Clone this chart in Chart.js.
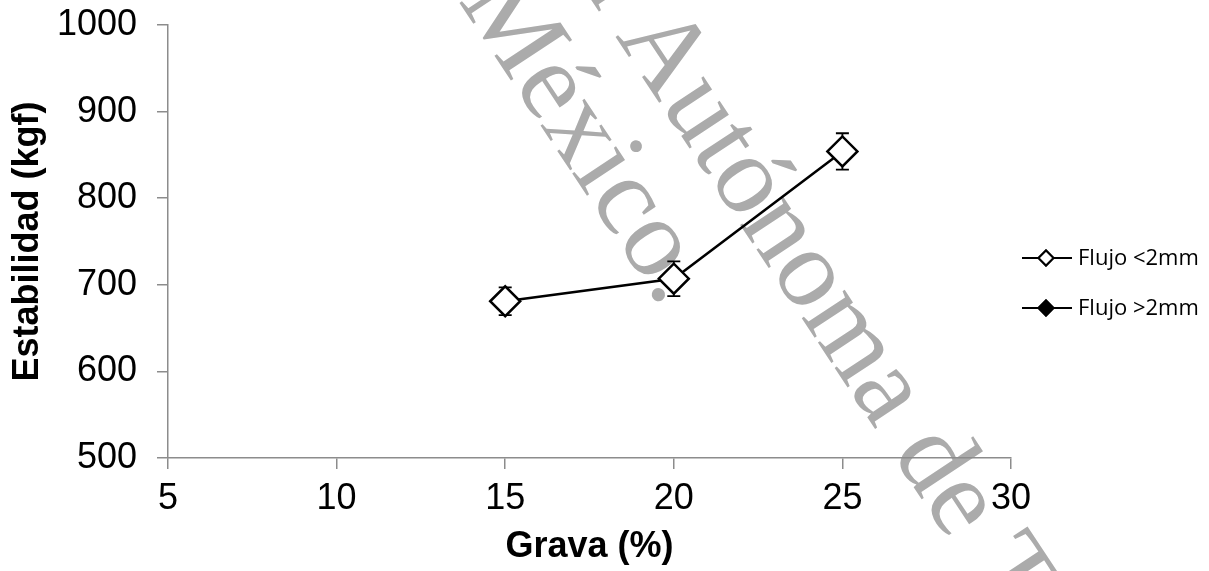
<!DOCTYPE html>
<html>
<head>
<meta charset="utf-8">
<title>Estabilidad vs Grava</title>
<script src="https://cdn.jsdelivr.net/npm/chart.js@4/dist/chart.umd.min.js"></script>
<style>
  html, body { margin: 0; padding: 0; background: #fff; }
  #chart { display: block; }
</style>
</head>
<body>
<canvas id="chart" width="1209" height="571"></canvas>
<script>
// data
const gravaPct = [15, 20, 25];
const flujoMenor = [681, 707, 854];
const flujoMenorErr = [16, 20, 21];
const flujoMayor = [];
const seriesLabels = ['Flujo <2mm', 'Flujo >2mm'];
const xTicks = [5, 10, 15, 20, 25, 30];
const yTicks = [500, 600, 700, 800, 900, 1000];

const AXIS_GREY = '#8c8c8c';
const TICK_FONT = { family: '"Liberation Sans", Arial, sans-serif', size: 36 };
const TITLE_FONT = { family: '"Liberation Sans", Arial, sans-serif', size: 36, weight: 'bold' };

/* =========================
   WATERMARK (behind the chart)
========================= */
const watermark = {
  id: 'watermark',
  beforeDraw(chart) {
    const ctx = chart.ctx;
    const ang = 56.5 * Math.PI / 180;
    ctx.save();
    ctx.fillStyle = '#ababab';
    ctx.font = '112px "Liberation Serif", "DejaVu Serif", serif';
    ctx.textBaseline = 'alphabetic';

    ctx.save();
    ctx.translate(615, 36);
    ctx.rotate(ang);
    ctx.textAlign = 'right';
    ctx.fillText('Universidad ', 0, 0);
    ctx.textAlign = 'left';
    ctx.fillText('Autónoma de Tamaulipas', 0, 0);
    ctx.restore();

    ctx.save();
    ctx.translate(662, 309);
    ctx.rotate(ang);
    ctx.textAlign = 'right';
    ctx.fillText('México.', 0, 0);
    ctx.restore();

    ctx.restore();
  }
};

/* =========================
   ERROR BARS
========================= */
const errorBars = {
  id: 'errorBars',
  beforeDatasetsDraw(chart) {
    const { ctx, scales: { x, y } } = chart;
    chart.data.datasets.forEach(ds => {
      if (!ds.errors) return;
      ds.data.forEach((p, i) => {
        const e = ds.errors[i];
        const px = x.getPixelForValue(p.x);
        const top = y.getPixelForValue(p.y + e);
        const bot = y.getPixelForValue(p.y - e);
        ctx.save();
        ctx.strokeStyle = '#000';
        ctx.lineWidth = 1.8;
        ctx.beginPath();
        ctx.moveTo(px, top); ctx.lineTo(px, bot);
        ctx.moveTo(px - 6.5, top); ctx.lineTo(px + 6.5, top);
        ctx.moveTo(px - 6.5, bot); ctx.lineTo(px + 6.5, bot);
        ctx.stroke();
        ctx.restore();
      });
    });
  }
};

/* =========================
   SIDE LEGEND (line + marker)
========================= */
const sideLegend = {
  id: 'sideLegend',
  afterDraw(chart) {
    const { ctx, chartArea } = chart;
    const x0 = chartArea.right + 11;
    chart.data.datasets.forEach((ds, i) => {
      const yy = 258 + i * 50;
      ctx.save();
      ctx.strokeStyle = '#000';
      ctx.lineWidth = 2;
      ctx.beginPath();
      ctx.moveTo(x0, yy);
      ctx.lineTo(x0 + 50, yy);
      ctx.stroke();
      Chart.helpers.drawPoint(ctx, {
        pointStyle: 'rectRot', radius: 7.5, borderWidth: 2
      }, x0 + 24, yy);
      ctx.fillStyle = ds.pointBackgroundColor;
      ctx.fill();
      ctx.lineWidth = 2;
      ctx.stroke();
      ctx.fillStyle = '#000';
      ctx.font = '22px "Open Sans", sans-serif';
      ctx.textBaseline = 'middle';
      ctx.textAlign = 'left';
      ctx.fillText(ds.label, x0 + 56, yy + 1);
      ctx.restore();
    });
  }
};

const pointsOf = (xs, ys) => ys.map((v, i) => ({ x: xs[i], y: v }));

new Chart(document.getElementById('chart'), {
  type: 'line',
  data: {
    datasets: [
      {
        label: seriesLabels[0],
        data: pointsOf(gravaPct, flujoMenor),
        errors: flujoMenorErr,
        borderColor: '#000',
        borderWidth: 2.5,
        pointStyle: 'rectRot',
        pointRadius: 15,
        pointBackgroundColor: '#fff',
        pointBorderColor: '#000',
        pointBorderWidth: 2.5,
        tension: 0
      },
      {
        label: seriesLabels[1],
        data: pointsOf(gravaPct, flujoMayor),
        borderColor: '#000',
        borderWidth: 2.5,
        pointStyle: 'rectRot',
        pointRadius: 15,
        pointBackgroundColor: '#000',
        pointBorderColor: '#000',
        tension: 0
      }
    ]
  },
  options: {
    responsive: false,
    animation: false,
    devicePixelRatio: 1,
    layout: { padding: { left: 0, right: 198, top: 25, bottom: 0 } },
    plugins: {
      legend: { display: false },
      tooltip: { enabled: false }
    },
    scales: {
      x: {
        type: 'linear',
        min: xTicks[0],
        max: xTicks[xTicks.length - 1],
        afterBuildTicks: s => { s.ticks = xTicks.map(v => ({ value: v })); },
        afterFit: s => { s.height = 113; s.paddingLeft = 0; s.paddingRight = 0; },
        border: { color: AXIS_GREY, width: 1.5 },
        grid: { drawOnChartArea: false, drawTicks: true, tickLength: 11, color: AXIS_GREY, lineWidth: 1.5 },
        ticks: { font: TICK_FONT, color: '#000', padding: 8, maxRotation: 0, callback: v => String(v) },
        title: { display: true, text: 'Grava (%)', font: TITLE_FONT, color: '#000', padding: { top: 0, bottom: 2 } }
      },
      y: {
        type: 'linear',
        min: yTicks[0],
        max: yTicks[yTicks.length - 1],
        afterBuildTicks: s => { s.ticks = yTicks.map(v => ({ value: v })); },
        afterFit: s => { s.width = 168; s.paddingTop = 0; s.paddingBottom = 0; },
        border: { color: AXIS_GREY, width: 1.5 },
        grid: { drawOnChartArea: false, drawTicks: true, tickLength: 11, color: AXIS_GREY, lineWidth: 1.5 },
        ticks: { font: TICK_FONT, color: '#000', padding: 20, callback: v => String(v) },
        title: { display: true, text: 'Estabilidad (kgf)', font: TITLE_FONT, color: '#000', padding: { top: 6, bottom: 0 } }
      }
    }
  },
  plugins: [watermark, errorBars, sideLegend]
});
</script>
</body>
</html>
